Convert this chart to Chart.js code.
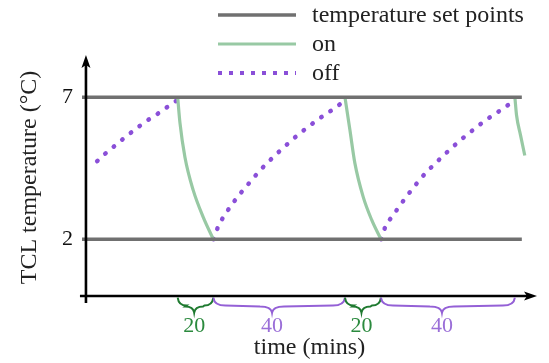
<!DOCTYPE html>
<html lang="en">
<head>
<meta charset="UTF-8">
<title>TCL temperature</title>
<script src="https://cdn.jsdelivr.net/npm/chart.js"></script>
<style>
    body { margin: 0; background: #fff; }
    .wrap { position: relative; width: 549px; height: 363px; }
    #legend { position: absolute; left: 216px; top: 0; font-family: "Liberation Serif", serif; }
    .item { display: flex; align-items: center; height: 29px; font-size: 24px; color: #222; }
    .item svg { margin-right: 14px; }
</style>
</head>
<body>
<div class="wrap">
    <canvas id="tclChart" width="549" height="363"></canvas>
    <div id="legend"></div>
</div>
<script>
// time axis is in picture units (off phase drawn as 40)
const setPointTime = [-1.2, 132.1, 132.1, -1.2, 132.1];
const setPointTemp = [7, 7, null, 2, 2];

const onTime = [27.8, 28.5, 30.0, 32.5, 35.5, 38.6, 38.6,
                78.5, 80.0, 81.5, 84.0, 86.6, 89.4, 89.4,
                130.0, 130.5, 131.7, 133.0];
const onTemp = [7.0, 6.09, 4.89, 3.73, 2.79, 2.0, null,
                7.0, 5.85, 4.68, 3.5, 2.68, 2.0, null,
                7.0, 6.37, 5.67, 4.95];

const offTime = [3.4, 5.9, 8.5, 11.1, 13.7, 16.5, 19.2, 22.0, 24.8, 27.7, 27.7,
                 38.6, 40.1, 41.9, 43.8, 45.8, 48.0, 50.2, 52.4, 54.8, 57.2, 59.7, 62.2, 64.8, 67.5, 70.2, 73.0, 75.8, 78.5, 78.5,
                 89.4, 90.9, 92.8, 94.8, 96.8, 98.9, 101.0, 103.3, 105.7, 108.1, 110.6, 113.1, 115.7, 118.4, 121.1, 123.9, 126.7, 130.0];
const offTemp = [4.75, 5.02, 5.27, 5.52, 5.76, 6.01, 6.23, 6.44, 6.67, 6.9, null,
                 2.0, 2.45, 2.83, 3.15, 3.47, 3.78, 4.08, 4.38, 4.67, 4.94, 5.21, 5.47, 5.73, 5.97, 6.21, 6.43, 6.65, 6.9, null,
                 2.0, 2.48, 2.8, 3.13, 3.45, 3.77, 4.07, 4.38, 4.65, 4.92, 5.19, 5.45, 5.70, 5.95, 6.19, 6.41, 6.63, 6.9];

const braceTickTime = [32.8, 56.4, 83.5, 107.9];
const braceTickLabel = ['20', '40', '20', '40'];
const yTickValues = [2, 7];

const GREEN_TXT = '#2b8a3e', PURPLE_TXT = '#9b6fd8';
const GREEN_BRACE = '#1f7a30', PURPLE_BRACE = '#9460d6';

function toPoints(times, temps) {
    return times.map((t, i) => ({ x: t, y: temps[i] }));
}

// start/end time of each unbroken run
function segments(times, temps) {
    const out = [];
    let start = null, last = null;
    times.forEach((t, i) => {
        if (temps[i] === null) {
            if (start !== null) out.push([start, last]);
            start = null;
        } else {
            if (start === null) start = t;
            last = t;
        }
    });
    if (start !== null) out.push([start, last]);
    return out;
}

const onSegs = segments(onTime, onTemp);
const offSegs = segments(offTime, offTemp);
const braceSpans = [onSegs[0], offSegs[1], onSegs[1], offSegs[2]];

function drawBrace(ctx, x1, x2, xm, y0, color) {
    const h = 8;
    const q = Math.min(12, (x2 - x1) / 4);
    ctx.strokeStyle = color;
    ctx.lineWidth = 2;
    ctx.beginPath();
    ctx.moveTo(x1, y0);
    ctx.quadraticCurveTo(x1 + 1, y0 + h, x1 + q, y0 + h);
    ctx.lineTo(xm - q, y0 + h + 1);
    ctx.quadraticCurveTo(xm - 1, y0 + h + 1, xm, y0 + h + 7);
    ctx.quadraticCurveTo(xm + 1, y0 + h + 1, xm + q, y0 + h + 1);
    ctx.lineTo(x2 - q, y0 + h);
    ctx.quadraticCurveTo(x2 - 1, y0 + h, x2, y0);
    ctx.stroke();
}

const axesPlugin = {
    id: 'axesPlugin',
    afterDatasetsDraw(chart) {
        const { ctx, chartArea, scales: { x, y } } = chart;
        const x0 = x.getPixelForValue(0);
        const y0 = y.getPixelForValue(0);
        ctx.save();
        ctx.strokeStyle = '#000';
        ctx.fillStyle = '#000';
        ctx.lineWidth = 2.6;
        ctx.beginPath();
        ctx.moveTo(x0, y0 + 7);
        ctx.lineTo(x0, chartArea.top + 8);
        ctx.moveTo(x0 - 6, y0);
        ctx.lineTo(chartArea.right - 8, y0);
        ctx.stroke();
        // arrow heads
        ctx.beginPath();
        ctx.moveTo(x0, chartArea.top);
        ctx.lineTo(x0 - 4.5, chartArea.top + 13);
        ctx.lineTo(x0, chartArea.top + 10);
        ctx.lineTo(x0 + 4.5, chartArea.top + 13);
        ctx.closePath();
        ctx.fill();
        ctx.beginPath();
        ctx.moveTo(chartArea.right, y0);
        ctx.lineTo(chartArea.right - 13, y0 - 4.5);
        ctx.lineTo(chartArea.right - 10, y0);
        ctx.lineTo(chartArea.right - 13, y0 + 4.5);
        ctx.closePath();
        ctx.fill();
        // braces under the time axis
        braceSpans.forEach((s, i) => {
            const col = braceTickLabel[i] === '20' ? GREEN_BRACE : PURPLE_BRACE;
            drawBrace(ctx, x.getPixelForValue(s[0]), x.getPixelForValue(s[1]),
                x.getPixelForValue(braceTickTime[i]), y0 + 1.5, col);
        });
        ctx.restore();
    }
};

const serif = '"Liberation Serif", serif';

const chart = new Chart(document.getElementById('tclChart'), {
    type: 'line',
    data: {
        datasets: [{
            label: 'temperature set points',
            data: toPoints(setPointTime, setPointTemp),
            borderColor: '#707070',
            borderWidth: 3.5,
            pointRadius: 0
        }, {
            label: 'on',
            data: toPoints(onTime, onTemp),
            borderColor: '#98c9a4',
            borderWidth: 3.2,
            pointRadius: 0,
            cubicInterpolationMode: 'monotone'
        }, {
            label: 'off',
            data: toPoints(offTime, offTemp),
            borderColor: '#8a4fd8',
            borderWidth: 4.5,
            borderDash: [0.5, 10.5],
            borderCapStyle: 'round',
            pointRadius: 0,
            cubicInterpolationMode: 'monotone'
        }]
    },
    options: {
        responsive: false,
        animation: false,
        layout: { padding: { top: 55, right: 12, left: 0, bottom: 0 } },
        plugins: { legend: { display: false }, tooltip: { enabled: false } },
        scales: {
            x: {
                type: 'linear',
                min: -1.2,
                max: 136.7,
                grid: { display: false, drawTicks: false },
                border: { display: false },
                afterBuildTicks: s => { s.ticks = braceTickTime.map(v => ({ value: v })); },
                afterFit: s => { s.height = 63; },
                ticks: {
                    autoSkip: false,
                    maxRotation: 0,
                    padding: 13,
                    font: { family: serif, size: 22 },
                    color: c => braceTickLabel[c.index] === '20' ? GREEN_TXT : PURPLE_TXT,
                    callback: (v, i) => braceTickLabel[i]
                },
                title: {
                    display: true,
                    text: 'time (mins)',
                    color: '#222',
                    font: { family: serif, size: 24 },
                    padding: { top: 0, bottom: 1 }
                }
            },
            y: {
                min: -0.14,
                max: 8.49,
                grid: { display: false, drawTicks: false },
                border: { display: false },
                afterBuildTicks: s => { s.ticks = yTickValues.map(v => ({ value: v })); },
                afterFit: s => { s.width = 82; },
                ticks: {
                    padding: 9,
                    font: { family: serif, size: 22 },
                    color: '#111',
                    callback: v => String(v)
                },
                title: {
                    display: true,
                    text: 'TCL temperature (°C)',
                    color: '#222',
                    font: { family: serif, size: 24 },
                    padding: { top: 15, bottom: 0 }
                }
            }
        }
    },
    plugins: [axesPlugin]
});

// legend as html, one row per series
const legend = document.getElementById('legend');
chart.data.datasets.forEach(ds => {
    const row = document.createElement('div');
    row.className = 'item';
    const dash = ds.borderDash ? 'stroke-dasharray="4 7"' : '';
    const w = ds.borderDash ? 4 : ds.borderWidth;
    row.innerHTML = '<svg width="82" height="8"><line x1="2" y1="4" x2="80" y2="4" stroke="' +
        ds.borderColor + '" stroke-width="' + w + '" ' + dash + '/></svg>';
    const label = document.createElement('span');
    label.textContent = ds.label;
    row.appendChild(label);
    legend.appendChild(row);
});
</script>
</body>
</html>
